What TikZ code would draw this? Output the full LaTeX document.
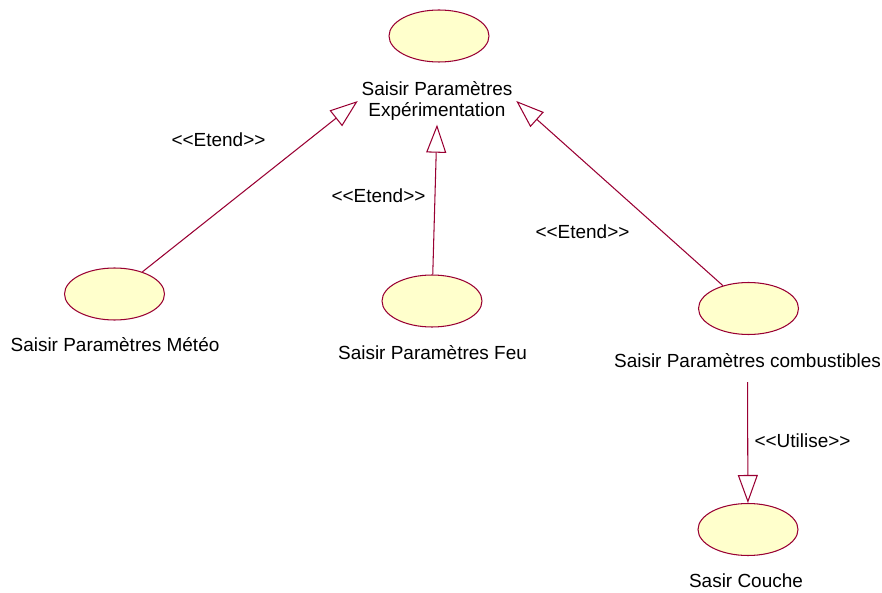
\documentclass[tikz,border=0pt]{standalone}
\usepackage{fontspec}
\newfontfamily\rosefont{Liberation Sans}
\usepackage{tikz}
\usetikzlibrary{positioning, arrows.meta, shapes.geometric}

\begin{document}
\begin{tikzpicture}[x=0.02cm, y=0.02cm,
    every node/.style={font=\rosefont\fontsize{10.8}{12.4}\selectfont},
    usecase/.style={ellipse, draw=roseline, fill=rosefill, line width=0.6pt,
      minimum width=2cm, minimum height=1.04cm, inner sep=0pt},
    caption/.style={anchor=base, inner sep=2pt},
    stereo/.style={anchor=base, inner sep=0pt},
    generalise/.style={draw=roseline, line width=0.6pt,
      -{Triangle[open, length=0.56cm, width=0.4cm]}}]
  % Define colors
  \definecolor{roseline}{RGB}{153,0,51}   % borders and links - maroon
  \definecolor{rosefill}{RGB}{255,255,204} % use case fill - light yellow

  % Fix the page size
  \useasboundingbox (0,0) rectangle (882,592);

  % Use cases
  \node[usecase] (exper) at (439,556) {};
  \node[align=center, inner sep=2pt] (experLbl) at (437,491)
    {Saisir Paramètres\\Expérimentation};

  \node[usecase] (meteo) at (114.5,298) {};
  \node[caption] (meteoLbl) at (115,240) {Saisir Paramètres Météo};

  \node[usecase] (feu) at (432,291) {};
  \node[caption] (feuLbl) at (432.5,233) {Saisir Paramètres Feu};

  \node[usecase] (comb) at (748.5,283.5) {};
  \node[caption] (combLbl) at (747.5,225) {Saisir Paramètres combustibles};

  \node[usecase] (couche) at (748,62.5) {};
  \node[caption] (coucheLbl) at (746,5) {Sasir Couche};

  % Links
  \draw[generalise] (meteo) -- (experLbl.west);
  \draw[generalise] (feu) -- (experLbl.south);
  \draw[generalise] (comb) -- (experLbl.east);
  \draw[generalise, shorten <=0.22cm] (combLbl.south) -- (couche);

  % Stereotypes
  \node[stereo] (etendA) at (218.5,445) {<<Etend>>};
  \node[stereo] (etendB) at (378.5,389) {<<Etend>>};
  \node[stereo] (etendC) at (582.5,353) {<<Etend>>};
  \node[stereo] (utilise) at (802.5,145) {<<Utilise>>};
\end{tikzpicture}
\end{document}
